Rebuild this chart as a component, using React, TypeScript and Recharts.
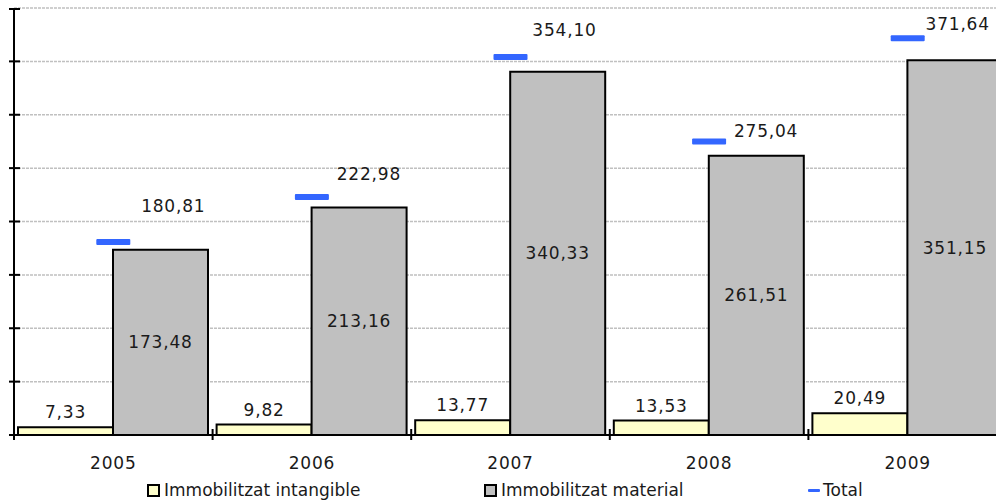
import React from "react";
import {
  Bar,
  CartesianGrid,
  ComposedChart,
  LabelList,
  Legend,
  Line,
  XAxis,
  YAxis,
} from "recharts";

// Years on the category axis
const years = ["2005", "2006", "2007", "2008", "2009"];
// Immobilitzat intangible
const intangible = [7.33, 9.82, 13.77, 13.53, 20.49];
// Immobilitzat material
const material = [173.48, 213.16, 340.33, 261.51, 351.15];
// Total (shown as dash markers)
const total = [180.81, 222.98, 354.1, 275.04, 371.64];
// Value axis ticks (no labels shown)
const yTicks = [0, 50, 100, 150, 200, 250, 300, 350, 400];

// hand-moved total labels, like in the original sheet
const totalLabelShift = [
  { dx: 60, dy: -35 },
  { dx: 57, dy: -22 },
  { dx: 54, dy: -26 },
  { dx: 57, dy: -9 },
  { dx: 50, dy: -13 },
];

const FONT = "'DejaVu Sans', Verdana, sans-serif";
const TEXT = "#1a1a1a";
const NUM_SIZE = 17;
const NUM_SPACING = 0.8;

const fmt = (v: number) => v.toFixed(2).replace(".", ",");

const chartData = years.map((year, i) => ({
  year,
  intangible: intangible[i],
  material: material[i],
  total: total[i],
}));

const YTick = (props: any) => {
  const { x, y } = props;
  return (
    <line x1={x - 5} x2={x + 6} y1={y} y2={y} stroke="#000" strokeWidth={2} />
  );
};

const XTick = (props: any) => {
  const { x, y, payload } = props;
  const half = payload && payload.offset ? payload.offset : 99.3;
  return (
    <g>
      <line
        x1={x - half}
        x2={x - half}
        y1={y - 6}
        y2={y + 5}
        stroke="#000"
        strokeWidth={2}
      />
      <text
        x={x}
        y={y + 29}
        textAnchor="middle"
        dominantBaseline="middle"
        fontFamily={FONT}
        fontSize={NUM_SIZE}
        letterSpacing={NUM_SPACING}
        fill={TEXT}
      >
        {payload.value}
      </text>
    </g>
  );
};

const TotalDot = (props: any) => {
  const { cx, cy, index } = props;
  if (cx == null || cy == null) return <g key={index} />;
  return (
    <rect
      key={index}
      x={cx - 17}
      y={cy - 3}
      width={34}
      height={6}
      rx={1}
      fill="#3366ff"
    />
  );
};

const TotalLabel = (props: any) => {
  const { x, y, value, index } = props;
  const s = totalLabelShift[index] || { dx: 55, dy: -26 };
  return (
    <text
      x={x + s.dx}
      y={y + s.dy}
      textAnchor="middle"
      dominantBaseline="middle"
      fontFamily={FONT}
      fontSize={NUM_SIZE}
      letterSpacing={NUM_SPACING}
      fill={TEXT}
    >
      {fmt(value)}
    </text>
  );
};

const legendItems = [
  { label: "Immobilitzat intangible", fill: "#ffffcc", kind: "box", left: 147 },
  { label: "Immobilitzat material", fill: "#c0c0c0", kind: "box", left: 484 },
  { label: "Total", fill: "#3366ff", kind: "dash", left: 808 },
];

const ChartLegend = () => (
  <div style={{ position: "relative", height: 24, width: 996 }}>
    {legendItems.map((item) => (
      <div
        key={item.label}
        style={{
          position: "absolute",
          left: item.left,
          top: 0,
          height: 24,
          display: "flex",
          alignItems: "center",
          fontFamily: FONT,
          fontSize: 17,
          color: TEXT,
          whiteSpace: "nowrap",
        }}
      >
        {item.kind === "box" ? (
          <span
            style={{
              display: "inline-block",
              width: 9,
              height: 9,
              background: item.fill,
              border: "2px solid #000",
              marginRight: 4,
            }}
          />
        ) : (
          <span
            style={{
              display: "inline-block",
              width: 12,
              height: 3,
              background: item.fill,
              borderRadius: 1,
              marginRight: 3,
            }}
          />
        )}
        {item.label}
      </div>
    ))}
  </div>
);

export default function App() {
  return (
    <div
      style={{
        position: "absolute",
        left: 0,
        top: 0,
        width: 996,
        height: 502,
        overflow: "hidden",
        background: "#fff",
      }}
    >
      <ComposedChart
        width={1007}
        height={502}
        data={chartData}
        margin={{ top: 8, right: 0, left: 8, bottom: 0 }}
        barCategoryGap={4}
        barGap={0}
      >
        <CartesianGrid
          vertical={false}
          stroke="#c0c0c0"
          strokeWidth={1.5}
          strokeDasharray="3 1"
        />
        <XAxis
          dataKey="year"
          interval={0}
          height={43}
          tickSize={0}
          tickMargin={0}
          tickLine={false}
          axisLine={{ stroke: "#000", strokeWidth: 2 }}
          tick={<XTick />}
        />
        <YAxis
          domain={[0, 400]}
          ticks={yTicks}
          width={6}
          tickSize={0}
          tickMargin={0}
          tickLine={false}
          axisLine={{ stroke: "#000", strokeWidth: 2 }}
          tick={<YTick />}
        />
        <Legend
          verticalAlign="bottom"
          wrapperStyle={{ left: 0, width: 996 }}
          content={() => <ChartLegend />}
        />
        <Bar
          dataKey="intangible"
          name="Immobilitzat intangible"
          fill="#ffffcc"
          stroke="#000"
          strokeWidth={2}
          isAnimationActive={false}
        >
          <LabelList
            dataKey="intangible"
            position="top"
            offset={9}
            formatter={(v: any) => fmt(Number(v))}
            style={{ fontFamily: FONT, fontSize: NUM_SIZE, letterSpacing: NUM_SPACING, fill: TEXT }}
          />
        </Bar>
        <Bar
          dataKey="material"
          name="Immobilitzat material"
          fill="#c0c0c0"
          stroke="#000"
          strokeWidth={2}
          isAnimationActive={false}
        >
          <LabelList
            dataKey="material"
            position="center"
            formatter={(v: any) => fmt(Number(v))}
            style={{ fontFamily: FONT, fontSize: NUM_SIZE, letterSpacing: NUM_SPACING, fill: TEXT }}
          />
        </Bar>
        <Line
          dataKey="total"
          name="Total"
          stroke="none"
          dot={TotalDot}
          activeDot={false}
          label={TotalLabel}
          isAnimationActive={false}
        />
      </ComposedChart>
    </div>
  );
}
